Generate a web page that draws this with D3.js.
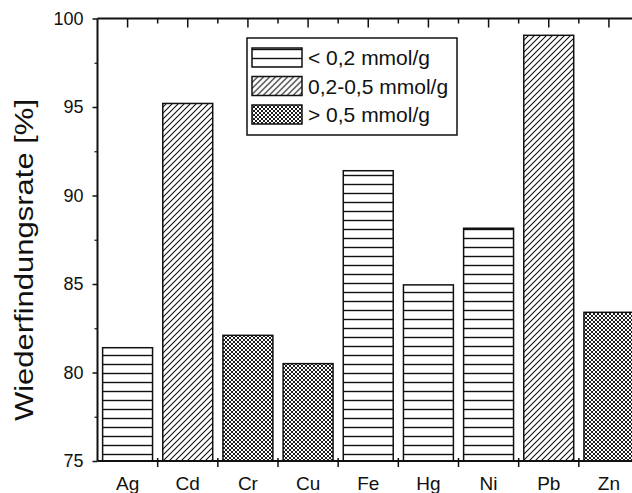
<!DOCTYPE html>
<html>
<head>
<meta charset="utf-8">
<script src="https://cdn.jsdelivr.net/npm/d3@7"></script>
<style>
  body { margin: 0; background: #fff; }
  svg { display: block; font-family: "Liberation Sans", Arial, sans-serif; }
</style>
</head>
<body>
<svg id="chart" width="632" height="493"></svg>
<script>
// data
let elements = ['Ag', 'Cd', 'Cr', 'Cu', 'Fe', 'Hg', 'Ni', 'Pb', 'Zn'];
let rates = [81.4, 95.2, 82.1, 80.5, 91.4, 84.95, 88.15, 99.05, 83.4];
let loadClass = [0, 1, 2, 2, 0, 0, 0, 1, 2];
let classLabels = ['< 0,2 mmol/g', '0,2-0,5 mmol/g', '> 0,5 mmol/g'];
let yTicks = [75, 80, 85, 90, 95, 100];
let yMinor = [77.5, 82.5, 87.5, 92.5, 97.5];

let svg = d3.select('#chart');
let plotLeft = 97.5, plotRight = 639, plotTop = 18.5, plotBottom = 461;

let x = d3.scaleBand()
    .domain(elements)
    .range([plotLeft, plotRight])
    .paddingInner(0.17)
    .paddingOuter(0.085);

let y = d3.scaleLinear()
    .domain([75, 100])
    .range([plotBottom, plotTop]);

// fill patterns
let defs = svg.append('defs');

let pHor = defs.append('pattern')
    .attr('id', 'pat0')
    .attr('patternUnits', 'userSpaceOnUse')
    .attr('width', 8).attr('height', 9);
pHor.append('rect').attr('width', 8).attr('height', 9).attr('fill', '#fff');
pHor.append('line')
    .attr('x1', 0).attr('x2', 8).attr('y1', 4.5).attr('y2', 4.5)
    .attr('stroke', '#111').attr('stroke-width', 1.4);

let pDiag = defs.append('pattern')
    .attr('id', 'pat1')
    .attr('patternUnits', 'userSpaceOnUse')
    .attr('width', 6).attr('height', 6);
pDiag.append('rect').attr('width', 6).attr('height', 6).attr('fill', '#fff');
pDiag.append('path')
    .attr('d', 'M0,6L6,0M-1,1L1,-1M5,7L7,5')
    .attr('stroke', '#111').attr('stroke-width', 1.1);

let pCross = defs.append('pattern')
    .attr('id', 'pat2')
    .attr('patternUnits', 'userSpaceOnUse')
    .attr('width', 4).attr('height', 4);
pCross.append('rect').attr('width', 4).attr('height', 4).attr('fill', '#fff');
pCross.append('path')
    .attr('d', 'M0,4L4,0M-1,1L1,-1M3,5L5,3M0,0L4,4M-1,3L1,5M3,-1L5,1')
    .attr('stroke', '#111').attr('stroke-width', 0.95);

// bars
svg.append('g')
    .selectAll('rect')
    .data(elements)
    .enter().append('rect')
    .attr('x', function (d) { return x(d); })
    .attr('width', x.bandwidth())
    .attr('y', function (d, i) { return y(rates[i]); })
    .attr('height', function (d, i) { return plotBottom - y(rates[i]); })
    .attr('fill', function (d, i) { return 'url(#pat' + loadClass[i] + ')'; })
    .attr('stroke', '#111')
    .attr('stroke-width', 1.5);

// left axis
let yAxis = d3.axisLeft(y).tickValues(yTicks).tickSize(5).tickPadding(9);
let gy = svg.append('g')
    .attr('transform', 'translate(' + plotLeft + ',0)')
    .call(yAxis);
gy.select('.domain').attr('stroke', '#111').attr('stroke-width', 2)
    .attr('d', 'M0,' + plotBottom + 'V' + plotTop);
gy.selectAll('.tick line').attr('stroke', '#111').attr('stroke-width', 1.5);
gy.selectAll('.tick text').attr('font-size', 18).attr('fill', '#111')
    .attr('font-family', '"Liberation Sans", Arial, sans-serif');

svg.append('g')
    .attr('transform', 'translate(' + plotLeft + ',0)')
    .call(d3.axisLeft(y).tickValues(yMinor).tickSize(3).tickFormat(''))
    .call(function (g) { g.select('.domain').remove(); })
    .selectAll('.tick line').attr('stroke', '#111').attr('stroke-width', 1.2);

// bottom axis: ticks on category boundaries
let bounds = elements.map(function (d) { return x(d) - x.step() * x.paddingInner() / 2; }).slice(1);
let gx = svg.append('g');
gx.append('line')
    .attr('x1', plotLeft).attr('x2', 632).attr('y1', plotBottom).attr('y2', plotBottom)
    .attr('stroke', '#111').attr('stroke-width', 2);
gx.selectAll('.btick')
    .data(bounds)
    .enter().append('line')
    .attr('x1', function (d) { return d; }).attr('x2', function (d) { return d; })
    .attr('y1', plotBottom - 3).attr('y2', plotBottom + 6)
    .attr('stroke', '#111').attr('stroke-width', 1.5);
gx.selectAll('text')
    .data(elements)
    .enter().append('text')
    .attr('x', function (d) { return x(d) + x.bandwidth() / 2; })
    .attr('y', 490)
    .attr('text-anchor', 'middle')
    .attr('font-size', 19)
    .attr('fill', '#111')
    .text(function (d) { return d; });

// top axis: long ticks at centres, short at boundaries
let gt = svg.append('g');
gt.append('line')
    .attr('x1', plotLeft).attr('x2', 632).attr('y1', plotTop).attr('y2', plotTop)
    .attr('stroke', '#111').attr('stroke-width', 2);
gt.selectAll('.tc')
    .data(elements)
    .enter().append('line')
    .attr('x1', function (d) { return x(d) + x.bandwidth() / 2; })
    .attr('x2', function (d) { return x(d) + x.bandwidth() / 2; })
    .attr('y1', plotTop).attr('y2', plotTop + 9)
    .attr('stroke', '#111').attr('stroke-width', 1.5);
gt.selectAll('.tb')
    .data(bounds)
    .enter().append('line')
    .attr('x1', function (d) { return d; }).attr('x2', function (d) { return d; })
    .attr('y1', plotTop).attr('y2', plotTop + 5)
    .attr('stroke', '#111').attr('stroke-width', 1.5);

// y title
svg.append('text')
    .attr('transform', 'translate(33,260) rotate(-90)')
    .attr('text-anchor', 'middle')
    .attr('font-size', 26)
    .attr('textLength', 322)
    .attr('lengthAdjust', 'spacingAndGlyphs')
    .attr('fill', '#111')
    .text('Wiederfindungsrate [%]');

// legend
let legend = svg.append('g');
legend.append('rect')
    .attr('x', 247).attr('y', 38).attr('width', 210).attr('height', 97)
    .attr('fill', '#fff').attr('stroke', '#111').attr('stroke-width', 1.5);
let rows = legend.selectAll('.row')
    .data(classLabels)
    .enter().append('g')
    .attr('transform', function (d, i) { return 'translate(0,' + (i * 28.5) + ')'; });
rows.append('rect')
    .attr('x', 252).attr('y', 48).attr('width', 50).attr('height', 19)
    .attr('fill', function (d, i) { return 'url(#pat' + i + ')'; })
    .attr('stroke', '#111').attr('stroke-width', 1.5);
rows.append('text')
    .attr('x', 308).attr('y', 65)
    .attr('font-size', 21)
    .attr('fill', '#111')
    .text(function (d) { return d; });
</script>
</body>
</html>
